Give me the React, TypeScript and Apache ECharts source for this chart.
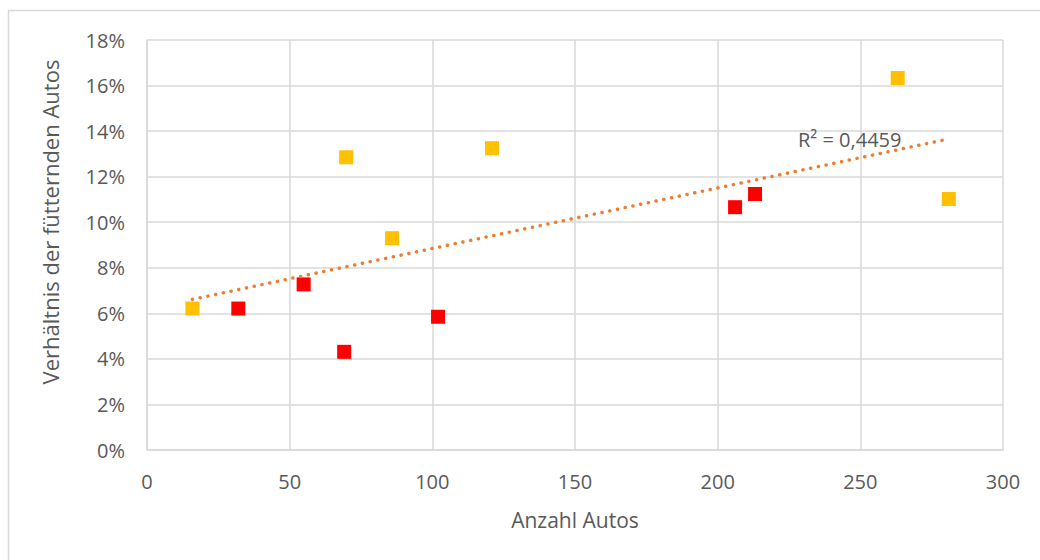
import React, { useEffect, useRef } from "react";
import * as echarts from "echarts";

const xTitle = "Anzahl Autos";
const yTitle = "Verhältnis der fütternden Autos";
const r2Label = "R² = 0,4459";

// Anzahl Autos, Verhältnis (%)
const yellowPoints: [number, number][] = [
  [15.9, 6.21],
  [69.8, 12.85],
  [85.9, 9.3],
  [120.9, 13.25],
  [263.1, 16.33],
  [281.0, 11.02],
];
const redPoints: [number, number][] = [
  [32.0, 6.21],
  [54.9, 7.27],
  [69.1, 4.31],
  [102.0, 5.85],
  [206.1, 10.66],
  [213.1, 11.24],
];
const xTicks = [0, 50, 100, 150, 200, 250, 300];
const yTicks = [0, 2, 4, 6, 8, 10, 12, 14, 16, 18];

function linearFit(pts: [number, number][]) {
  const n = pts.length;
  const mx = pts.reduce((s, p) => s + p[0], 0) / n;
  const my = pts.reduce((s, p) => s + p[1], 0) / n;
  let sxy = 0, sxx = 0;
  for (const [x, y] of pts) {
    sxy += (x - mx) * (y - my);
    sxx += (x - mx) * (x - mx);
  }
  const slope = sxy / sxx;
  const intercept = my - slope * mx;
  const xs = pts.map((p) => p[0]);
  const x0 = Math.min(...xs);
  const x1 = Math.max(...xs);
  return [
    [x0, intercept + slope * x0],
    [x1, intercept + slope * x1],
  ];
}

const FONT = "'Open Sans', sans-serif";
const GREY_TEXT = "#595959";

export default function App() {
  const ref = useRef<HTMLDivElement>(null);
  useEffect(() => {
    if (!ref.current) return;
    const chart = echarts.init(ref.current, undefined, { renderer: "svg" });
    const trend = linearFit([...yellowPoints, ...redPoints]);
    chart.setOption({
      animation: false,
      backgroundColor: "#ffffff",
      textStyle: { fontFamily: FONT },
      grid: { left: 147, right: 37, top: 40, bottom: 110, containLabel: false },
      xAxis: {
        type: "value",
        min: xTicks[0],
        max: xTicks[xTicks.length - 1],
        interval: 50,
        axisLine: { show: true, lineStyle: { color: "#D9D9D9", width: 1.5 } },
        axisTick: { show: false },
        splitLine: { show: true, lineStyle: { color: "#D9D9D9", width: 1.5 } },
        axisLabel: { color: GREY_TEXT, fontSize: 20, margin: 21, fontFamily: FONT },
      },
      yAxis: {
        type: "value",
        min: yTicks[0],
        max: yTicks[yTicks.length - 1],
        interval: 2,
        axisLine: { show: true, lineStyle: { color: "#D9D9D9", width: 1.5 } },
        axisTick: { show: false },
        splitLine: { show: true, lineStyle: { color: "#D9D9D9", width: 1.5 } },
        axisLabel: {
          color: GREY_TEXT,
          fontSize: 20,
          margin: 22,
          fontFamily: FONT,
          formatter: (v: number) => v + "%",
        },
      },
      graphic: [
        {
          type: "rect",
          silent: true,
          shape: { x: 8.5, y: 10.5, width: 1100, height: 600 },
          style: { fill: "none", stroke: "#D9D9D9", lineWidth: 1.5 },
          z: -10,
        },
        {
          type: "text",
          x: 575,
          y: 520,
          style: {
            text: xTitle,
            fill: GREY_TEXT,
            font: "21px " + FONT,
            textAlign: "center",
            textVerticalAlign: "middle",
          },
        },
        {
          type: "text",
          x: 50,
          y: 222,
          rotation: Math.PI / 2,
          style: {
            text: yTitle,
            fill: GREY_TEXT,
            font: "22px " + FONT,
            textAlign: "center",
            textVerticalAlign: "middle",
          },
        },
        {
          type: "text",
          x: 798,
          y: 139,
          style: {
            text: r2Label,
            fill: GREY_TEXT,
            font: "20px " + FONT,
            textAlign: "left",
            textVerticalAlign: "middle",
          },
          z: 100,
        },
      ],
      series: [
        {
          type: "line",
          data: trend,
          symbol: "none",
          lineStyle: { color: "#ED7D31", width: 3.5, type: [0.1, 7.8], cap: "round" },
          z: 3,
          silent: true,
        },
        {
          type: "scatter",
          data: yellowPoints,
          symbol: "rect",
          symbolSize: 14,
          itemStyle: { color: "#FFC000", opacity: 1 },
          z: 2,
        },
        {
          type: "scatter",
          data: redPoints,
          symbol: "rect",
          symbolSize: 14,
          itemStyle: { color: "#FF0000", opacity: 1 },
          z: 2,
        },
      ],
    });
    return () => chart.dispose();
  }, []);
  return (
    <div
      ref={ref}
      style={{ position: "absolute", left: 0, top: 0, width: 1040, height: 560 }}
    />
  );
}
